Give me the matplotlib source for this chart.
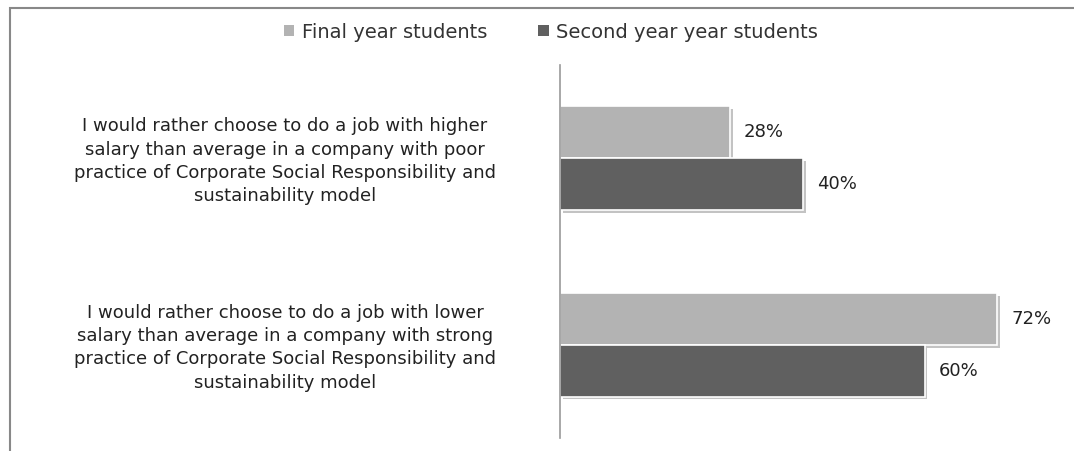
import matplotlib.pyplot as plt
import matplotlib.transforms as mtransforms
import matplotlib.patheffects as pe
from matplotlib.patches import Rectangle
import numpy as np

# Data
categories = [
    "I would rather choose to do a job with lower\nsalary than average in a company with strong\n"
    "practice of Corporate Social Responsibility and\nsustainability model",
    "I would rather choose to do a job with higher\nsalary than average in a company with poor\n"
    "practice of Corporate Social Responsibility and\nsustainability model",
]
series_names = ["Final year students", "Second year year students"]
final_year = [72, 28]
second_year = [60, 40]

colors = ["#b3b3b3", "#606060"]

fig = plt.figure(figsize=(10.74, 4.51), dpi=100)
ax = fig.add_axes([0.5214, 0.0288, 0.4526, 0.8271])

y = np.arange(len(categories))
h = 0.278
shadow = [pe.SimplePatchShadow(offset=(2, -2), shadow_rgbFace="#888888", alpha=0.5), pe.Normal()]

b1 = ax.barh(y + h / 2, final_year, height=h, color=colors[0], edgecolor="white",
             linewidth=1.2, label=series_names[0])
b2 = ax.barh(y - h / 2, second_year, height=h, color=colors[1], edgecolor="white",
             linewidth=1.2, label=series_names[1])
for bars in (b1, b2):
    for p in bars:
        p.set_path_effects(shadow)

for bars, vals in ((b1, final_year), (b2, second_year)):
    for p, v in zip(bars, vals):
        ax.text(v + 2.3, p.get_y() + p.get_height() / 2, f"{v}%", va="center",
                ha="left", fontsize=13, color="#222222")

ax.set_xlim(0, 80)
ax.set_ylim(-0.5, 1.5)
ax.set_xticks([])
ax.set_yticks([])
for s in ("top", "right", "bottom"):
    ax.spines[s].set_visible(False)
ax.spines["left"].set_color("#999999")
ax.spines["left"].set_linewidth(1.2)

# category labels: x in figure coords, y in data coords
trans = mtransforms.blended_transform_factory(fig.transFigure, ax.transData)
for yi, lab in zip(y, categories):
    ax.text(285 / 1074, yi - 0.016, lab, transform=trans, ha="center", va="center",
            fontsize=13, color="#222222", linespacing=1.38, clip_on=False)

leg = fig.legend(handles=[b1, b2], labels=series_names, loc="center",
                 bbox_to_anchor=(0.513, 1 - 32 / 451), ncol=2, frameon=False,
                 fontsize=14, handlelength=0.55, handleheight=0.55,
                 handletextpad=0.4, columnspacing=2.6)
for t in leg.get_texts():
    t.set_color("#333333")
for hd in leg.legend_handles:
    hd.set_path_effects([])
    hd.set_edgecolor("none")

# outer chart border
fig.patches.append(Rectangle((10 / 1074, -0.05), 1.1, 1 - 8 / 451 + 0.05,
                             transform=fig.transFigure, fill=False,
                             edgecolor="#888888", linewidth=1.5))

fig.savefig("out.png", dpi=100)
